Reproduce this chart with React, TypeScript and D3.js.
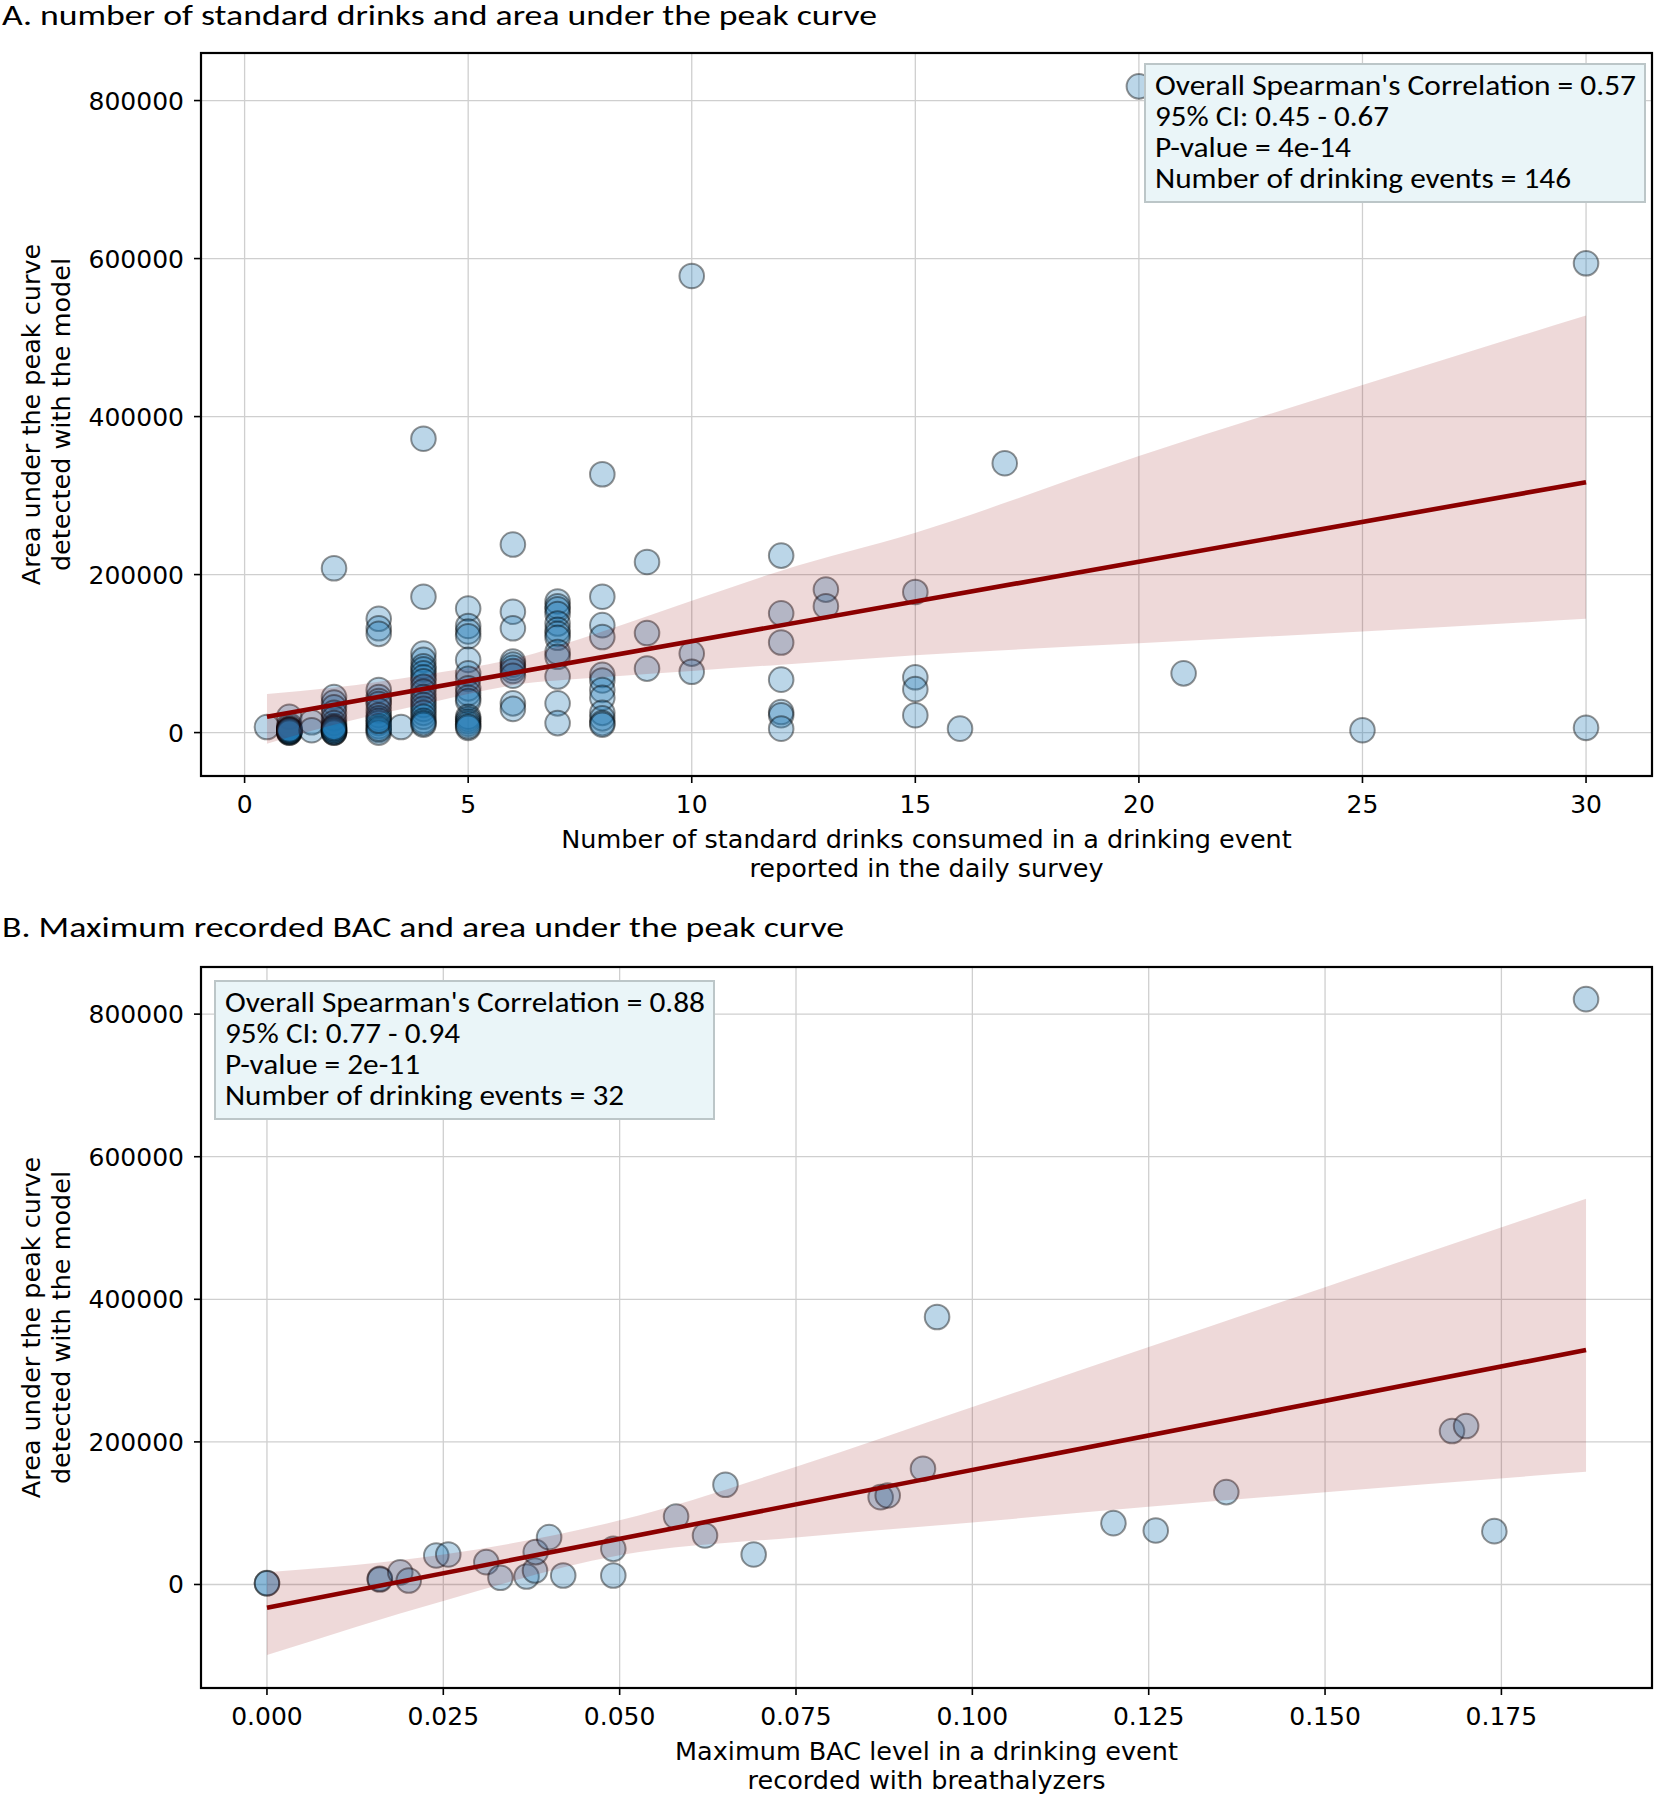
import React from 'react';
import * as d3 from 'd3';

// ---------------- Panel A data ----------------
const drinkLevels = [0.5, 1, 1.5, 2, 3, 3.5, 4, 5, 6, 7, 8, 9, 10, 12, 13, 15, 16, 17, 20, 21, 25, 30];
const aucByDrinks: number[][] = [
  [7000],
  [20000, 9000, 6000, 4000, 3000, 2000, 1000, 0, 0, 1500, 2500, 4000],
  [13000, 3000],
  [208000, 45000, 38000, 32000, 25000, 18000, 12000, 8000, 5000, 3000, 1000, 0, 0, 2000, 4000, 6000],
  [144000, 132000, 125000, 54000, 45000, 40000, 36000, 28000, 22000, 18000, 12000, 8000, 3000, 0, 5000, 15000],
  [7000],
  [372000, 172000, 100000, 92000, 84000, 80000, 75000, 70000, 65000, 58000, 52000, 45000, 40000, 35000, 30000, 25000, 20000, 15000, 10000, 12000],
  [157000, 135000, 128000, 122000, 92000, 75000, 68000, 56000, 50000, 44000, 40000, 20000, 17000, 14000, 11000, 6000, 8000],
  [238000, 153000, 132000, 90000, 86000, 82000, 78000, 72000, 37000, 30000],
  [166000, 160000, 156000, 150000, 138000, 130000, 125000, 120000, 102000, 96000, 71000, 37000, 12000],
  [327000, 172000, 136000, 121000, 73000, 66000, 54000, 44000, 25000, 18000, 12000, 10000],
  [216000, 126000, 81000],
  [578000, 100000, 77000],
  [224000, 151000, 114000, 67000, 26000, 22000, 5000],
  [181000, 160000],
  [178000, 70000, 55000, 22000],
  [5000],
  [341000],
  [818000],
  [75000],
  [3000],
  [594000, 6000],
];
const fitAX = [0.5, 30];
const fitAY = [20000, 317000];
const bandAX = [0.5, 2, 4, 6, 8, 10, 12, 15, 20, 25, 30];
const bandALow = [-14000, 10000, 36000, 60000, 70000, 78000, 86000, 98000, 113000, 128000, 144000];
const bandAHigh = [49000, 57000, 73000, 93000, 128000, 167000, 205000, 253000, 350000, 440000, 528000];
const xTicksA = [0, 5, 10, 15, 20, 25, 30];
const annotA = [
  "Overall Spearman's Correlation = 0.57",
  '95% CI: 0.45 - 0.67',
  'P-value = 4e-14',
  'Number of drinking events = 146',
];

// ---------------- Panel B data ----------------
const bacX = [0, 0, 0.016, 0.016, 0.0189, 0.0201, 0.024, 0.0257, 0.0311, 0.0331, 0.0368, 0.038, 0.0381, 0.04, 0.042, 0.0491, 0.0491,
  0.058, 0.0621, 0.065, 0.069, 0.087, 0.088, 0.093, 0.095, 0.12, 0.126, 0.136, 0.168, 0.17, 0.174, 0.187];
const bacAuc = [2000, 1500, 8000, 7000, 17000, 5600, 40700, 42100, 31300, 9400, 11200, 19600, 45400, 66400, 12600, 50000, 12600,
  95400, 68800, 139900, 42100, 122500, 124900, 162400, 375200, 86000, 75800, 129600, 215200, 222200, 74800, 821000];
const fitBX = [0, 0.187];
const fitBY = [-32700, 329000];
const bandBX = [0, 0.025, 0.05, 0.075, 0.1, 0.125, 0.15, 0.187];
const bandBLow = [-99000, -23000, 41000, 66000, 87000, 109000, 129500, 158000];
const bandBHigh = [17000, 42000, 90000, 165000, 249000, 333000, 417000, 541000];
const xTicksB = [0, 0.025, 0.05, 0.075, 0.1, 0.125, 0.15, 0.175];
const annotB = [
  "Overall Spearman's Correlation = 0.88",
  '95% CI: 0.77 - 0.94',
  'P-value = 2e-11',
  'Number of drinking events = 32',
];

const yTicks = [0, 200000, 400000, 600000, 800000];

const FRAME_L = 201;
const FRAME_R = 1652;
const TICK_FONT = 'DejaVu Sans, Verdana, sans-serif';
const CAL_FONT = 'Calibri, Carlito, Lato, sans-serif';

type PanelProps = {
  id: string;
  top: number;
  bottom: number;
  xDomain: [number, number];
  yDomain: [number, number];
  xTicks: number[];
  xFmt: (v: number) => string;
  pts: { x: number; y: number }[];
  band: { x: number[]; lo: number[]; hi: number[] };
  fit: { x: number[]; y: number[] };
  title: string;
  titleY: number;
  titleLen: number;
  xLabel: string[];
  annot: string[];
  annotBox: { x: number; y: number; w: number; h: number };
  annotLens: number[];
};

function Panel(p: PanelProps) {
  const x = d3.scaleLinear().domain(p.xDomain).range([FRAME_L, FRAME_R]);
  const y = d3.scaleLinear().domain(p.yDomain).range([p.bottom, p.top]);
  const bandData = p.band.x.map((v, i) => ({ x: v, lo: p.band.lo[i], hi: p.band.hi[i] }));
  const area = d3
    .area<{ x: number; lo: number; hi: number }>()
    .x((d) => x(d.x))
    .y0((d) => y(d.lo))
    .y1((d) => y(d.hi))
    .curve(d3.curveMonotoneX);
  const line = d3
    .line<number>()
    .x((d) => x(d))
    .y((d, i) => y(p.fit.y[i]));
  const cy = (p.top + p.bottom) / 2;
  const cx = (FRAME_L + FRAME_R) / 2;
  const clipId = 'clip-' + p.id;
  return (
    <g>
      <text x={2} y={p.titleY} fontFamily={CAL_FONT} fontSize={29} fill="#000" textLength={p.titleLen} lengthAdjust="spacingAndGlyphs">
        {p.title}
      </text>
      <defs>
        <clipPath id={clipId}>
          <rect x={FRAME_L} y={p.top} width={FRAME_R - FRAME_L} height={p.bottom - p.top} />
        </clipPath>
      </defs>
      {/* grid */}
      <g stroke="#cfcfcf" strokeWidth={1.3}>
        {p.xTicks.map((t) => (
          <line key={'gx' + t} x1={x(t)} x2={x(t)} y1={p.top} y2={p.bottom} />
        ))}
        {yTicks.map((t) => (
          <line key={'gy' + t} x1={FRAME_L} x2={FRAME_R} y1={y(t)} y2={y(t)} />
        ))}
      </g>
      <g clipPath={`url(#${clipId})`}>
        {p.pts.map((d, i) => (
          <circle
            key={i}
            cx={x(d.x)}
            cy={y(d.y)}
            r={12.3}
            fill="rgba(31,119,180,0.3)"
            stroke="rgba(0,0,0,0.42)"
            strokeWidth={2}
          />
        ))}
        <path d={area(bandData) || ''} fill="rgba(139,0,0,0.15)" />
        <path d={line(p.fit.x) || ''} fill="none" stroke="#8b0000" strokeWidth={4.6} />
      </g>
      {/* annotation */}
      <rect
        x={p.annotBox.x}
        y={p.annotBox.y}
        width={p.annotBox.w}
        height={p.annotBox.h}
        fill="#eaf5f8"
        stroke="#bcc6c8"
        strokeWidth={2}
      />
      {p.annot.map((s, i) => (
        <text
          key={i}
          x={p.annotBox.x + 10}
          y={p.annotBox.y + 31 + i * 31}
          fontFamily={CAL_FONT}
          fontSize={28}
          fill="#000"
          textLength={p.annotLens[i]}
          lengthAdjust="spacingAndGlyphs"
        >
          {s}
        </text>
      ))}
      {/* frame */}
      <rect x={FRAME_L} y={p.top} width={FRAME_R - FRAME_L} height={p.bottom - p.top} fill="none" stroke="#000" strokeWidth={2.2} />
      {/* x ticks */}
      {p.xTicks.map((t) => (
        <g key={'xt' + t}>
          <line x1={x(t)} x2={x(t)} y1={p.bottom} y2={p.bottom + 7} stroke="#000" strokeWidth={1.6} />
          <text x={x(t)} y={p.bottom + 37} textAnchor="middle" fontFamily={TICK_FONT} fontSize={25} fill="#000">
            {p.xFmt(t)}
          </text>
        </g>
      ))}
      {yTicks.map((t) => (
        <g key={'yt' + t}>
          <line x1={FRAME_L - 7} x2={FRAME_L} y1={y(t)} y2={y(t)} stroke="#000" strokeWidth={1.6} />
          <text x={FRAME_L - 17} y={y(t)} dy="0.36em" textAnchor="end" fontFamily={TICK_FONT} fontSize={25} fill="#000">
            {d3.format('d')(t)}
          </text>
        </g>
      ))}
      {/* x label */}
      {p.xLabel.map((s, i) => (
        <text key={'xl' + i} x={cx} y={p.bottom + 72 + i * 29} textAnchor="middle" fontFamily={TICK_FONT} fontSize={25.5} fill="#000">
          {s}
        </text>
      ))}
      {/* y label */}
      {['Area under the peak curve', 'detected with the model'].map((s, i) => (
        <text
          key={'yl' + i}
          transform={`translate(${40 + i * 30},${cy}) rotate(-90)`}
          textAnchor="middle"
          fontFamily={TICK_FONT}
          fontSize={25.5}
          fill="#000"
        >
          {s}
        </text>
      ))}
    </g>
  );
}

export default function App() {
  const ptsA = drinkLevels.flatMap((lv, i) => aucByDrinks[i].map((v) => ({ x: lv, y: v })));
  const ptsB = bacX.map((v, i) => ({ x: v, y: bacAuc[i] }));
  return (
    <svg
      width={1658}
      height={1800}
      viewBox="0 0 1658 1800"
      style={{ position: 'absolute', left: 0, top: 0, background: '#fff' }}
    >
      <rect x={0} y={0} width={1658} height={1800} fill="#fff" />
      <Panel
        id="a"
        top={53}
        bottom={776}
        xDomain={[-0.975, 31.475]}
        yDomain={[-54950, 860200]}
        xTicks={xTicksA}
        xFmt={(v) => String(v)}
        pts={ptsA}
        band={{ x: bandAX, lo: bandALow, hi: bandAHigh }}
        fit={{ x: fitAX, y: fitAY }}
        title="A. number of standard drinks and area under the peak curve"
        titleY={25}
        titleLen={875}
        xLabel={['Number of standard drinks consumed in a drinking event', 'reported in the daily survey']}
        annot={annotA}
        annotBox={{ x: 1145, y: 64, w: 500, h: 138 }}
        annotLens={[481, 234, 196, 416]}
      />
      <Panel
        id="b"
        top={967}
        bottom={1688}
        xDomain={[-0.00935, 0.19635]}
        yDomain={[-145200, 866100]}
        xTicks={xTicksB}
        xFmt={(v) => d3.format('.3f')(v)}
        pts={ptsB}
        band={{ x: bandBX, lo: bandBLow, hi: bandBHigh }}
        fit={{ x: fitBX, y: fitBY }}
        title="B. Maximum recorded BAC and area under the peak curve"
        titleY={937}
        titleLen={842}
        xLabel={['Maximum BAC level in a drinking event', 'recorded with breathalyzers']}
        annot={annotB}
        annotBox={{ x: 215, y: 981, w: 499, h: 138 }}
        annotLens={[480, 235, 195, 399]}
      />
    </svg>
  );
}
